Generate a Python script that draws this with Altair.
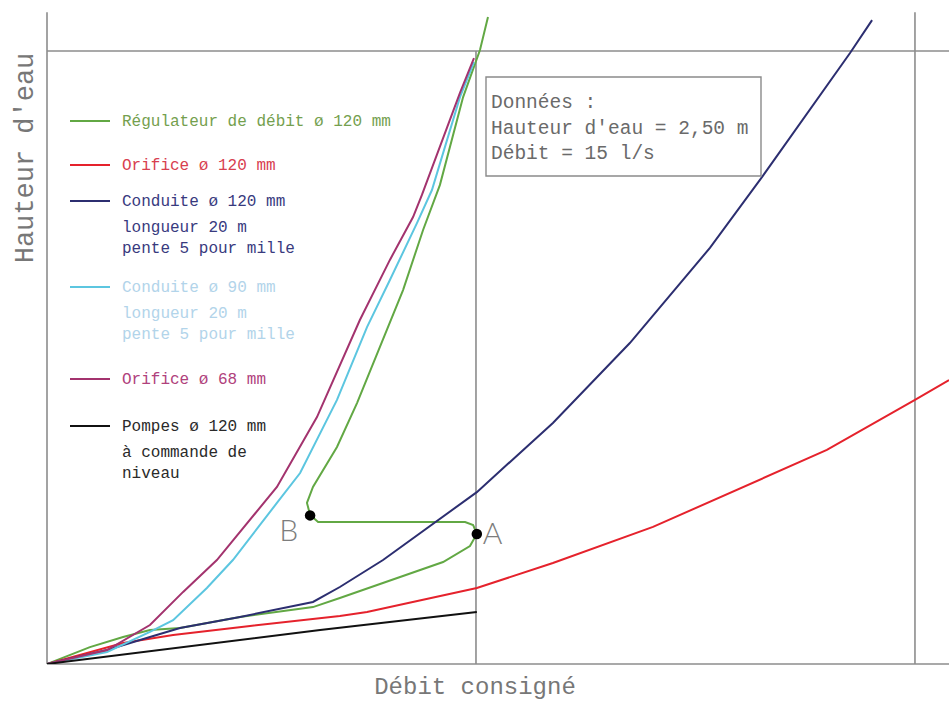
import altair as alt
import pandas as pd

# ---------------- data (Débit in l/s, Hauteur in m) ----------------
X_MAX = 31.54
Y_MAX = 2.708
Q_CONSIGNE = 15.0
Q_RIGHT = 30.35
H_CONSIGNE = 2.50
H_AXIS_TOP = 2.658

reg_q = [0, 1.50, 2.66, 3.60, 4.65, 6.75, 9.30, 10.24, 13.85, 14.79, 15.03, 14.90, 14.62,
         9.48, 9.20, 9.09, 9.30, 10.14, 10.84, 12.45, 13.15, 13.74, 14.55, 15.14, 15.42]
reg_h = [0, 0.069, 0.110, 0.139, 0.147, 0.192, 0.232, 0.269, 0.416, 0.481, 0.530, 0.567, 0.579,
         0.579, 0.608, 0.657, 0.722, 0.885, 1.064, 1.525, 1.770, 1.954, 2.312, 2.504, 2.639]

ori120_q = [0, 2.66, 4.41, 7.10, 10.24, 11.19, 15.03, 17.69, 21.19, 27.27, 30.35, 31.54]
ori120_h = [0, 0.086, 0.118, 0.155, 0.196, 0.212, 0.310, 0.412, 0.559, 0.873, 1.077, 1.158]

cond120_q = [0, 2.10, 3.60, 4.65, 6.75, 9.30, 10.24, 11.75, 15.03, 17.69, 20.38, 23.18, 25.00, 28.08, 28.85]
cond120_h = [0, 0.057, 0.110, 0.147, 0.192, 0.253, 0.314, 0.424, 0.701, 0.983, 1.309, 1.697, 1.986, 2.492, 2.626]

cond90_q = [0, 2.10, 3.60, 4.41, 5.59, 6.50, 8.04, 8.85, 10.14, 11.19, 11.99, 12.94, 13.46, 14.44, 14.93]
cond90_h = [0, 0.049, 0.131, 0.179, 0.310, 0.424, 0.657, 0.779, 1.077, 1.374, 1.566, 1.799, 1.933, 2.312, 2.455]

ori68_q = [0, 2.10, 3.60, 4.76, 5.94, 8.04, 9.44, 10.94, 11.99, 12.80, 13.11, 14.44, 14.93]
ori68_h = [0, 0.057, 0.159, 0.294, 0.424, 0.722, 1.007, 1.403, 1.648, 1.823, 1.913, 2.329, 2.471]

pompes_q = [0, 9.55, 15.03]
pompes_h = [0, 0.139, 0.212]

series = ["Régulateur", "Orifice120", "Conduite120", "Conduite90", "Orifice68", "Pompes"]
line_colors = ["#62a844", "#e5222c", "#2c2e70", "#5cc6e0", "#a3336e", "#111111"]

points_name = ["A", "B"]
points_q = [15.03, 9.20]
points_h = [0.530, 0.606]

legend_lines = [
    ["Régulateur de débit ø 120 mm"],
    ["Orifice ø 120 mm"],
    ["Conduite ø 120 mm", "longueur 20 m", "pente 5 pour mille"],
    ["Conduite ø 90 mm", "longueur 20 m", "pente 5 pour mille"],
    ["Orifice ø 68 mm"],
    ["Pompes ø 120 mm", "à commande de", "niveau"],
]
legend_text_colors = ["#74a04e", "#d8404f", "#383a7e", "#b2d4ea", "#b0417c", "#2a2a2a"]

box_lines = ["Données :", "Hauteur d'eau = 2,50 m", "Débit = 15 l/s"]

# ---------------- layout constants (pixels) ----------------
W, H = 902, 664
LEG_Y = [121, 165, 201, 287, 379, 426]
LEG_SUB_DY = [0, 26, 47]
MONO = "Liberation Mono"

# ---------------- build tables ----------------
rows = []
for name, qs, hs in [("Régulateur", reg_q, reg_h), ("Orifice120", ori120_q, ori120_h),
                     ("Conduite120", cond120_q, cond120_h), ("Conduite90", cond90_q, cond90_h),
                     ("Orifice68", ori68_q, ori68_h), ("Pompes", pompes_q, pompes_h)]:
    for i, (q, h) in enumerate(zip(qs, hs)):
        rows.append({"serie": name, "q": q, "h": h, "ord": i})
df = pd.DataFrame(rows)

xs = alt.Scale(domain=[0, X_MAX], nice=False, zero=False)
ys = alt.Scale(domain=[0, Y_MAX], nice=False, zero=False)

rules_df = pd.DataFrame([
    {"x": 0, "x2": 0, "y": 0, "y2": H_AXIS_TOP},
    {"x": 0, "x2": X_MAX, "y": 0, "y2": 0},
    {"x": Q_CONSIGNE, "x2": Q_CONSIGNE, "y": 0, "y2": H_CONSIGNE},
    {"x": Q_RIGHT, "x2": Q_RIGHT, "y": 0, "y2": H_AXIS_TOP},
    {"x": 0, "x2": X_MAX, "y": H_CONSIGNE, "y2": H_CONSIGNE},
])
rules = alt.Chart(rules_df).mark_rule(color="#8c8c8c", strokeWidth=1.6).encode(
    x=alt.X("x:Q", scale=xs, axis=None), x2="x2:Q",
    y=alt.Y("y:Q", scale=ys, axis=None), y2="y2:Q")

lines = alt.Chart(df).mark_line(strokeWidth=2, clip=True).encode(
    x=alt.X("q:Q", scale=xs, axis=None),
    y=alt.Y("h:Q", scale=ys, axis=None),
    color=alt.Color("serie:N", scale=alt.Scale(domain=series, range=line_colors), legend=None),
    order=alt.Order("ord:Q"))

pts_df = pd.DataFrame({"name": points_name, "q": points_q, "h": points_h})
pts = alt.Chart(pts_df).mark_circle(size=110, color="#000000", opacity=1).encode(
    x=alt.X("q:Q", scale=xs, axis=None), y=alt.Y("h:Q", scale=ys, axis=None))

lab_a = alt.Chart(pts_df[pts_df.name == "A"]).mark_text(
    align="left", baseline="middle", dx=6, dy=1, font="Lato", fontWeight=300,
    fontSize=30, color="#7d7d7d").encode(
    x=alt.X("q:Q", scale=xs, axis=None), y=alt.Y("h:Q", scale=ys, axis=None), text="name:N")
lab_b = alt.Chart(pts_df[pts_df.name == "B"]).mark_text(
    align="right", baseline="middle", dx=-12, dy=17, font="Lato", fontWeight=300,
    fontSize=30, color="#7d7d7d").encode(
    x=alt.X("q:Q", scale=xs, axis=None), y=alt.Y("h:Q", scale=ys, axis=None), text="name:N")

# legend (pixel space)
leg_rows, txt_rows = [], []
for i, lines_i in enumerate(legend_lines):
    leg_rows.append({"x": 23, "x2": 63, "y": LEG_Y[i], "c": line_colors[i]})
    for j, t in enumerate(lines_i):
        txt_rows.append({"x": 75, "y": LEG_Y[i] + LEG_SUB_DY[j], "t": t, "c": legend_text_colors[i]})
leg_df = pd.DataFrame(leg_rows)
txt_df = pd.DataFrame(txt_rows)
leg_lines = alt.Chart(leg_df).mark_rule(strokeWidth=2.2).encode(
    x=alt.X("x:Q", scale=None), x2="x2:Q", y=alt.Y("y:Q", scale=None),
    color=alt.Color("c:N", scale=None))
leg_text = alt.Chart(txt_df).mark_text(
    align="left", baseline="middle", font=MONO, fontSize=16).encode(
    x=alt.X("x:Q", scale=None), y=alt.Y("y:Q", scale=None), text="t:N",
    color=alt.Color("c:N", scale=None))

# data box (pixel space)
box = alt.Chart(pd.DataFrame({"x": [439], "x2": [714], "y": [77], "y2": [176]})).mark_rect(
    fill="white", stroke="#8a8a8a", strokeWidth=1.4).encode(
    x=alt.X("x:Q", scale=None), x2="x2:Q", y=alt.Y("y:Q", scale=None), y2="y2:Q")
box_df = pd.DataFrame({"t": box_lines, "y": [102, 128, 153]})
box_text = alt.Chart(box_df).mark_text(
    align="left", baseline="middle", font=MONO, fontSize=19.5, color="#6a6a6a").encode(
    x=alt.value(444), y=alt.Y("y:Q", scale=None), text="t:N")

# axis titles (pixel space)
xt = alt.Chart(pd.DataFrame({"t": ["Débit consigné"]})).mark_text(
    align="center", baseline="middle", font=MONO, fontSize=24, color="#777777").encode(
    x=alt.value(428), y=alt.value(687), text="t:N")
yt = alt.Chart(pd.DataFrame({"t": ["Hauteur d'eau"]})).mark_text(
    align="center", baseline="middle", angle=270, font=MONO, fontSize=27,
    color="#777777").encode(
    x=alt.value(-22), y=alt.value(158), text="t:N")

chart = alt.layer(rules, lines, pts, lab_a, lab_b, box, box_text, leg_lines, leg_text, xt, yt).properties(
    width=W, height=H,
    padding={"left": 47, "top": 0, "right": 0, "bottom": 41},
    autosize=alt.AutoSizeParams(type="none"),
    background="white",
).configure_view(stroke=None)

chart.save("out.html", embed_options={"renderer": "svg", "actions": False})
